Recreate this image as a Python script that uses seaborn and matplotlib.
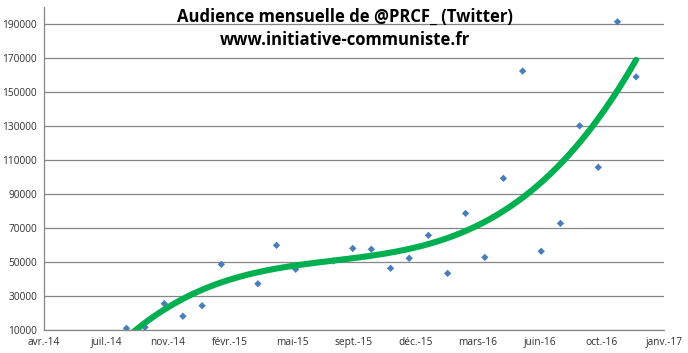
import numpy as np
import pandas as pd

import matplotlib as mpl
mpl.use('Agg')
import matplotlib.pyplot as plt
import matplotlib.dates as mdates
import seaborn as sns

# monthly Twitter audience of @PRCF_ (no visible point for mars-15 and juil-15)
months = pd.to_datetime([
    '2014-09-01', '2014-10-01', '2014-11-01', '2014-12-01',
    '2015-01-01', '2015-02-01', '2015-04-01', '2015-05-01', '2015-06-01',
    '2015-08-01', '2015-09-01', '2015-10-01', '2015-11-01', '2015-12-01',
    '2016-01-01', '2016-02-01', '2016-03-01', '2016-04-01', '2016-05-01',
    '2016-06-01', '2016-07-01', '2016-08-01', '2016-09-01', '2016-10-01',
    '2016-11-01', '2016-12-01'])
audience = [11000, 11600, 25500, 18100,
            24300, 48600, 37200, 59800, 45700,
            50600, 58000, 57500, 46300, 52200,
            65700, 43300, 78600, 52700, 99200,
            162300, 56300, 72700, 130100, 105700,
            191300, 158900]

# excel date axis: major unit of 100 days from 21/04/2014
tick_dates = pd.date_range('2014-04-21', periods=11, freq='100D')
fr_months = ['janv.', 'févr.', 'mars', 'avr.', 'mai', 'juin',
             'juil.', 'août', 'sept.', 'oct.', 'nov.', 'déc.']
y_ticks = list(range(10000, 200000, 20000))

title_lines = ['Audience mensuelle de @PRCF_ (Twitter)',
               'www.initiative-communiste.fr']


def main():
    sns.set_style('white')
    plt.rcParams['font.family'] = ['Open Sans', 'DejaVu Sans']

    fig = plt.figure(figsize=(6.88, 3.53), dpi=100)
    ax = fig.add_axes([44 / 688, 23 / 353, 620 / 688, 323 / 353])

    x_num = mdates.date2num(months)
    df = pd.DataFrame({'x': x_num, 'audience': audience})

    # polynomial (order 3) trend line, as in the spreadsheet
    coefs = np.polyfit(x_num - x_num[0], audience, 3)
    fit_x = np.linspace(x_num[0], x_num[-1], 300)
    fit_y = np.polyval(coefs, fit_x - x_num[0])

    sns.scatterplot(data=df, x='x', y='audience', marker='D', s=14,
                    color='#4A7EBB', edgecolor='none', ax=ax, zorder=3)
    sns.lineplot(x=fit_x, y=fit_y, color='#00B050', linewidth=4.4,
                 ax=ax, zorder=4, solid_capstyle='round')

    tick_num = mdates.date2num(tick_dates)
    ax.set_xlim(tick_num[0], tick_num[-1])
    ax.set_ylim(10000, 200000)
    ax.set_xticks(tick_num)
    ax.set_xticklabels(['{}-{:02d}'.format(fr_months[d.month - 1], d.year % 100)
                        for d in tick_dates])
    ax.set_yticks(y_ticks)
    ax.set_yticklabels([str(v) for v in y_ticks])

    ax.yaxis.grid(True, color='#868686', linewidth=0.9)
    ax.set_axisbelow(True)
    for side in ['top', 'right']:
        ax.spines[side].set_visible(False)
    for side in ['left', 'bottom']:
        ax.spines[side].set_color('#868686')
        ax.spines[side].set_linewidth(0.9)

    ax.tick_params(axis='both', which='major', direction='out', length=3,
                   width=0.9, color='#868686', labelsize=7.3,
                   labelcolor='#303030', pad=2)
    ax.set_xlabel('')
    ax.set_ylabel('')

    fig.text(0.501, 0.953, title_lines[0], ha='center', va='center',
             fontsize=12, fontweight='bold', color='black')
    fig.text(0.501, 0.886, title_lines[1], ha='center', va='center',
             fontsize=12, fontweight='bold', color='black')

    fig.savefig('out.png', dpi=100)
    plt.close()


if __name__ == '__main__':
    main()
